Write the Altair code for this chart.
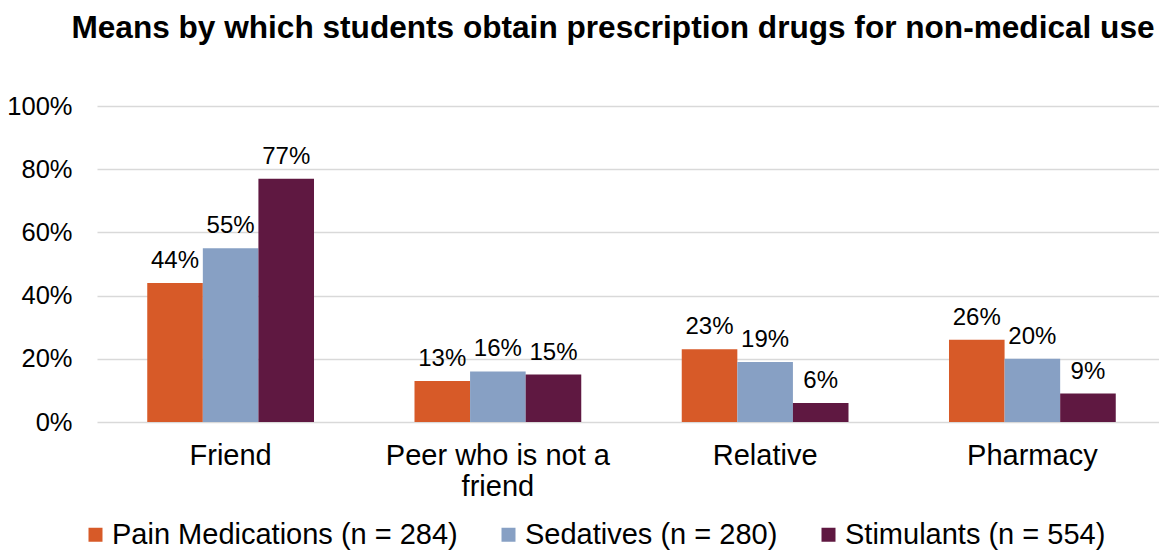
import altair as alt
import pandas as pd

categories = ["Friend", "Peer who is not a friend", "Relative", "Pharmacy"]
series = ["Pain Medications (n = 284)", "Sedatives (n = 280)", "Stimulants (n = 554)"]
pain = [44, 13, 23, 26]
sedatives = [55, 16, 19, 20]
stimulants = [77, 15, 6, 9]
colors = ["#D75A28", "#87A0C4", "#5F1841"]

rows = []
for s, vals in zip(series, [pain, sedatives, stimulants]):
    for c, v in zip(categories, vals):
        rows.append({"source": c, "drug": s, "value": v, "label": f"{v}%"})
df = pd.DataFrame(rows)

FONT = "Liberation Sans"

x = alt.X("source:N", sort=categories, title=None,
          scale=alt.Scale(paddingInner=0.376, paddingOuter=0.188, range=[0, 1069]),
          axis=alt.Axis(labelAngle=0, labelFontSize=29, labelColor="#000000", labelFont=FONT,
                        labelPadding=19, labelLineHeight=31, ticks=False, domain=False,
                        labelLimit=400,
                        labelExpr="datum.label == 'Peer who is not a friend' ? ['Peer who is not a', 'friend'] : datum.label"))
xo = alt.XOffset("drug:N", sort=series, scale=alt.Scale(paddingInner=0, paddingOuter=0))
y = alt.Y("value:Q", title=None,
          scale=alt.Scale(domain=[0, 100], nice=False),
          axis=alt.Axis(values=[0, 20, 40, 60, 80, 100], labelExpr="datum.value + '%'",
                        labelFontSize=25.5, labelFont=FONT, labelColor="#000000", labelPadding=25,
                        ticks=False, domain=False, gridColor="#D9D9D9", gridWidth=1.5))

bars = alt.Chart(df).mark_bar().encode(
    x=x, xOffset=xo, y=y,
    color=alt.Color("drug:N", sort=series, scale=alt.Scale(domain=series, range=colors),
                    legend=alt.Legend(title=None, orient="none", direction="horizontal",
                                      legendX=-16, legendY=414, symbolType="square", symbolSize=196,
                                      symbolStrokeWidth=0, labelFontSize=29, labelFont=FONT,
                                      labelColor="#000000", labelOffset=2, columnPadding=36,
                                      labelLimit=600)),
)

labels = alt.Chart(df).mark_text(baseline="middle", dy=-22, fontSize=24, font=FONT, color="#000000").encode(
    x=x, xOffset=xo, y=y, text="label:N"
)

chart = (bars + labels).properties(
    width=1062, height=316,
    autosize=alt.AutoSizeParams(type="none"),
    padding={"left": 89, "top": 98, "right": 0, "bottom": 130},
    title=alt.TitleParams("Means by which students obtain prescription drugs for non-medical use",
                          font=FONT, fontSize=31.6, fontWeight="bold", color="#000000",
                          anchor="middle", dx=-15, offset=49),
).configure_view(stroke=None)

chart.save("out.html", embed_options={"renderer": "svg", "actions": False})
